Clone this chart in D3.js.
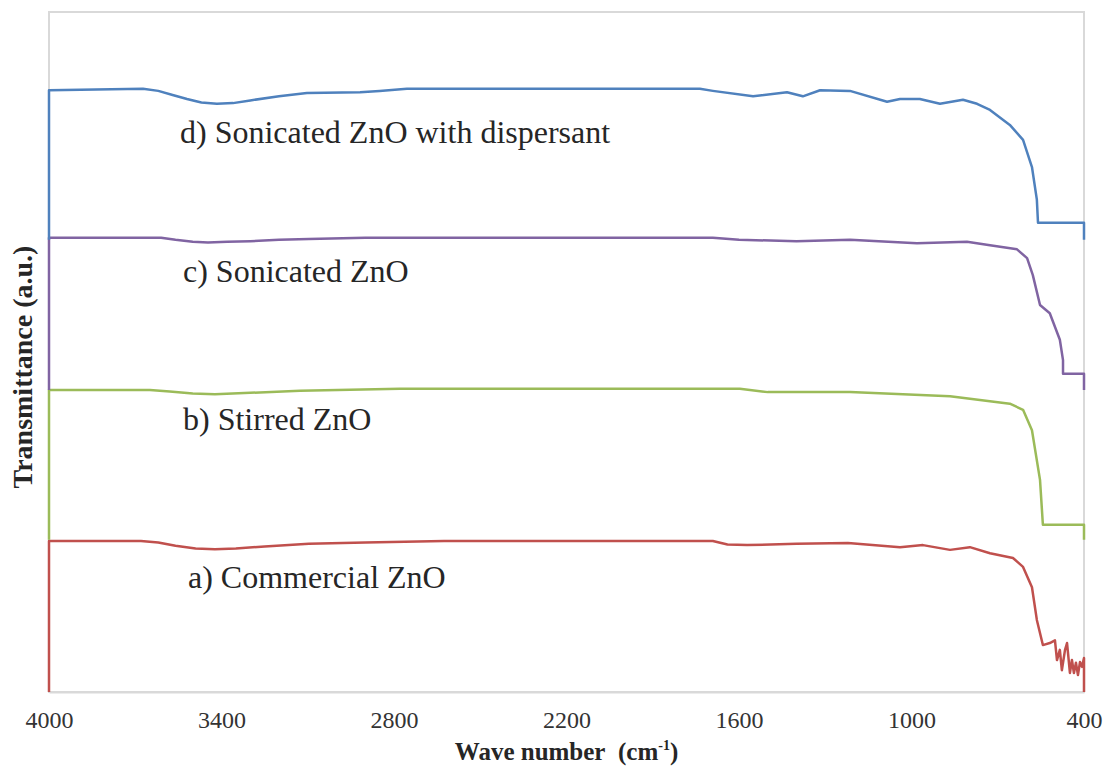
<!DOCTYPE html>
<html>
<head>
<meta charset="utf-8">
<script src="https://cdn.jsdelivr.net/npm/d3@7"></script>
<style>
  html, body { margin: 0; padding: 0; background: #fff; }
  svg { display: block; }
</style>
</head>
<body>
<svg id="chart" width="1107" height="769"></svg>
<script>
// ---- data (wave number cm^-1, transmittance a.u.) ----
const xTicks = [4000, 3400, 2800, 2200, 1600, 1000, 400];
const seriesNames = ["a) Commercial ZnO", "b) Stirred ZnO", "c) Sonicated ZnO", "d) Sonicated ZnO with dispersant"];
const seriesColors = ["#C0504D", "#9BBB59", "#8064A2", "#4F81BD"];

const commercialWave = [4000, 4000, 3680, 3620, 3560, 3490, 3423, 3350, 3250, 3096, 2900, 2626, 1691, 1640, 1572, 1400, 1221, 1040, 960, 866, 797, 727, 647, 612, 581, 564, 543, 519, 501, 494, 484, 477, 466, 459, 449, 442, 435, 428, 421, 414, 407, 400, 400];
const commercialT    = [0, 22.2, 22.2, 22.0, 21.5, 21.1, 21.0, 21.1, 21.4, 21.8, 22.0, 22.2, 22.2, 21.7, 21.6, 21.8, 21.9, 21.3, 21.6, 20.9, 21.3, 20.4, 19.7, 18.4, 15.4, 10.6, 6.9, 7.2, 7.6, 4.7, 6.2, 3.2, 6.2, 7.2, 2.8, 4.7, 2.8, 4.3, 2.5, 4.4, 3.7, 5.0, 0];

const stirredWave = [4000, 4000, 3649, 3580, 3500, 3423, 3300, 3127, 2779, 1597, 1500, 1214, 866, 658, 612, 581, 553, 543, 400, 400];
const stirredT    = [22.4, 44.4, 44.4, 44.2, 43.9, 43.8, 44.0, 44.3, 44.6, 44.6, 44.1, 44.1, 43.5, 42.4, 41.5, 38.5, 31.2, 24.6, 24.6, 22.4];

const sonicatedWave = [4000, 4000, 3610, 3560, 3500, 3447, 3380, 3300, 3200, 3096, 2900, 1691, 1600, 1400, 1214, 981, 807, 727, 633, 598, 578, 553, 519, 484, 473, 473, 400, 400];
const sonicatedT    = [44.4, 66.8, 66.8, 66.5, 66.2, 66.1, 66.2, 66.3, 66.5, 66.6, 66.8, 66.8, 66.5, 66.3, 66.5, 66.0, 66.2, 65.7, 65.1, 63.8, 61.3, 56.9, 55.7, 51.8, 48.8, 46.8, 46.8, 44.4];

const dispersantWave = [4000, 4000, 3673, 3620, 3570, 3520, 3470, 3416, 3360, 3300, 3200, 3103, 2918, 2850, 2755, 2362, 1736, 1691, 1551, 1433, 1378, 1318, 1214, 1085, 1040, 971, 901, 821, 772, 727, 658, 612, 581, 564, 560, 400, 400];
const dispersantT    = [66.5, 88.5, 88.7, 88.4, 87.8, 87.2, 86.7, 86.5, 86.6, 87.0, 87.6, 88.1, 88.2, 88.4, 88.7, 88.7, 88.7, 88.4, 87.6, 88.2, 87.6, 88.5, 88.4, 86.8, 87.2, 87.2, 86.5, 87.1, 86.5, 85.6, 83.4, 81.2, 77.2, 72.4, 69.0, 69.0, 66.5];

const seriesWave = [commercialWave, stirredWave, sonicatedWave, dispersantWave];
const seriesT = [commercialT, stirredT, sonicatedT, dispersantT];

// ---- layout ----
const plot = { left: 49, right: 1084, top: 12, bottom: 692 };
const serif = "'Liberation Serif', 'Times New Roman', serif";

const svg = d3.select("#chart");
const x = d3.scaleLinear().domain([4000, 400]).range([plot.left, plot.right]);
const y = d3.scaleLinear().domain([0, 100]).range([plot.bottom, plot.top]);

// plot border
svg.append("rect")
  .attr("x", plot.left).attr("y", plot.top)
  .attr("width", plot.right - plot.left).attr("height", plot.bottom - plot.top)
  .attr("fill", "none").attr("stroke", "#d9d9d9").attr("stroke-width", 2);

// x axis (labels only)
const xAxis = d3.axisBottom(x).tickValues(xTicks).tickSize(0).tickPadding(0).tickFormat(d3.format("d"));
const gx = svg.append("g").attr("transform", `translate(0,${plot.bottom})`).call(xAxis);
gx.select(".domain").attr("stroke", "#d9d9d9").attr("stroke-width", 2);
gx.selectAll("text")
  .attr("y", 36).attr("dy", null)
  .attr("font-family", serif)
  .attr("font-size", 24).attr("fill", "#333");

// series lines
const line = d3.line().x(d => x(d[0])).y(d => y(d[1]));
seriesWave.forEach((wv, i) => {
  const pts = wv.map((w, j) => [w, seriesT[i][j]]);
  svg.append("path")
    .attr("d", line(pts))
    .attr("fill", "none")
    .attr("stroke", seriesColors[i])
    .attr("stroke-width", 2.5)
    .attr("stroke-linejoin", "round");
});

// series labels
const labelPos = [[188, 588], [183, 430], [183, 282], [180, 143]];
seriesNames.forEach((name, i) => {
  svg.append("text")
    .attr("x", labelPos[i][0]).attr("y", labelPos[i][1])
    .attr("font-family", serif)
    .attr("font-size", 32).attr("fill", "#262626")
    .text(name);
});

// axis titles
const xt = svg.append("text")
  .attr("x", (plot.left + plot.right) / 2).attr("y", 760)
  .attr("text-anchor", "middle")
  .attr("font-family", serif)
  .attr("font-weight", "bold").attr("font-size", 25).attr("fill", "#262626");
xt.append("tspan").text("Wave number\u00A0 (cm");
xt.append("tspan").attr("font-size", 14).attr("dy", -10).text("-1");
xt.append("tspan").attr("dy", 10).text(")");

svg.append("text")
  .attr("transform", `translate(32,367) rotate(-90)`)
  .attr("text-anchor", "middle")
  .attr("font-family", serif)
  .attr("font-weight", "bold").attr("font-size", 28).attr("fill", "#262626")
  .text("Transmittance (a.u.)");
</script>
</body>
</html>
